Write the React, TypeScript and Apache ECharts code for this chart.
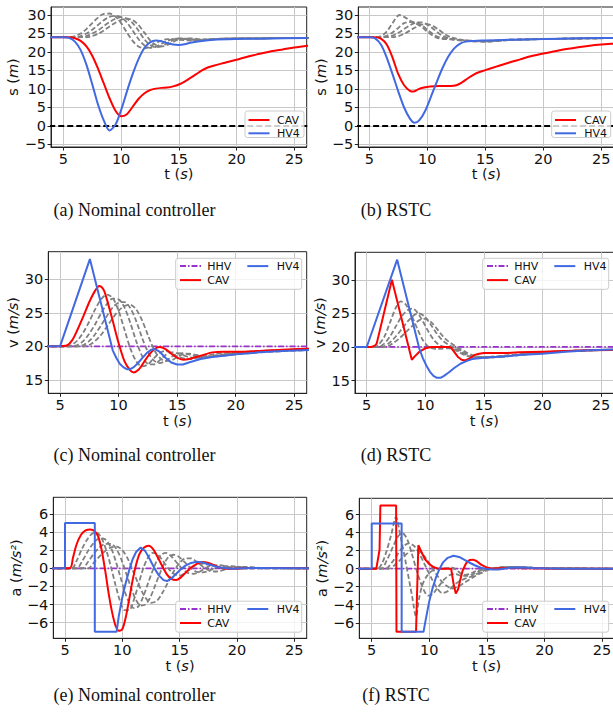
import React, { useEffect, useRef } from "react";
import * as echarts from "echarts";

type P = [number, number][];

// ---------- tick values ----------
const xTicks = [5, 10, 15, 20, 25];
const sTicks = [-5, 0, 5, 10, 15, 20, 25, 30];
const vTicks = [15, 20, 25, 30];
const aTicks = [-6, -4, -2, 0, 2, 4, 6];

// ---------- reference lines ----------
const safeGap: P = [[3, 0], [27, 0]];
const hhvV: P = [[3, 20], [27, 20]];
const hhvA: P = [[3, 0], [27, 0]];

// ---------- (a) spacing, nominal ----------
const sNomCAV: P = [[3, 24], [5.5, 24], [6, 23.7], [6.5, 23], [7, 21.5], [7.5, 19], [8, 15.5], [8.5, 11.5], [9, 7.5], [9.5, 4.2], [10, 2.6], [10.5, 3.2], [11, 5.2], [11.5, 7.3], [12, 8.8], [12.5, 9.7], [13, 10.1], [13.5, 10.3], [14, 10.4], [14.5, 10.7], [15, 11.2], [15.5, 12], [16, 13], [16.5, 14], [17, 15], [17.5, 15.8], [18, 16.3], [19, 17.1], [20, 17.9], [21, 18.8], [22, 19.5], [23, 20.2], [24, 20.7], [25, 21.2], [27, 22]];
const sNomHV4: P = [[3, 24], [5, 24], [5.5, 23.8], [6, 22.8], [6.5, 20.5], [7, 16.5], [7.5, 11.3], [8, 5.8], [8.5, 1.5], [9, -1.2], [9.5, 0.3], [10, 4.3], [10.5, 9.3], [11, 14], [11.5, 18], [12, 21], [12.5, 22.6], [13, 23.1], [13.5, 22.9], [14, 22.4], [14.5, 22], [15, 21.9], [15.5, 22.1], [16, 22.5], [17, 23], [18, 23.3], [20, 23.5], [22, 23.6], [27, 23.8]];
const sNomG1: P = [[3, 24], [5.5, 24], [6, 24.3], [6.5, 25], [7, 26.2], [7.5, 27.8], [8, 29.3], [8.5, 30.3], [9, 30.4], [9.5, 29.6], [10, 27.8], [10.5, 25.3], [11, 23], [11.5, 21.5], [12, 21], [12.5, 21.5], [13, 22.4], [13.5, 23.1], [14, 23.5], [14.5, 23.5], [15, 23.3], [16, 23.1], [17, 23.3], [19, 23.6], [22, 23.7], [27, 23.8]];
const sNomG2: P = [[3, 24], [6, 24], [6.5, 24.3], [7, 25], [7.5, 26], [8, 27.3], [8.5, 28.6], [9, 29.5], [9.5, 29.8], [10, 29.4], [10.5, 28], [11, 25.8], [11.5, 23.5], [12, 21.8], [12.5, 21.1], [13, 21.4], [13.5, 22.2], [14, 23], [14.5, 23.5], [15, 23.6], [16, 23.3], [17, 23.3], [19, 23.6], [22, 23.7], [27, 23.8]];
const sNomG3: P = [[3, 24], [6.5, 24], [7, 24.3], [7.5, 25], [8, 25.8], [8.5, 27], [9, 28.1], [9.5, 29], [10, 29.4], [10.5, 29], [11, 27.8], [11.5, 25.8], [12, 23.5], [12.5, 21.9], [13, 21.3], [13.5, 21.6], [14, 22.4], [14.5, 23.2], [15, 23.7], [16, 23.5], [17, 23.3], [19, 23.6], [22, 23.7], [27, 23.8]];
const sNomG4: P = [[3, 24], [7, 24], [7.5, 24.3], [8, 24.9], [8.5, 25.8], [9, 26.9], [9.5, 27.9], [10, 28.7], [10.5, 29], [11, 28.6], [11.5, 27.3], [12, 25.3], [12.5, 23.2], [13, 21.9], [13.5, 21.5], [14, 21.9], [14.5, 22.7], [15, 23.4], [16, 23.7], [17, 23.4], [19, 23.6], [22, 23.7], [27, 23.8]];

// ---------- (b) spacing, RSTC ----------
const sRstcCAV: P = [[3, 24], [5.5, 24], [6, 23.6], [6.5, 22], [7, 18.5], [7.5, 14], [8, 11], [8.5, 9.5], [8.8, 9.3], [9.2, 9.9], [9.7, 10.4], [10.2, 10.7], [11, 10.8], [12, 10.8], [12.5, 11], [13, 11.8], [13.5, 12.9], [14, 13.9], [14.5, 14.6], [15, 15.1], [16, 16.1], [17, 17.1], [18, 18], [19, 18.9], [20, 19.6], [21, 20.2], [22, 20.8], [23, 21.3], [24, 21.7], [25, 22], [27, 22.5]];
const sRstcHV4: P = [[3, 24], [5, 24], [5.5, 23.7], [6, 22], [6.5, 18.5], [7, 14], [7.5, 9.3], [8, 5], [8.5, 2], [8.9, 0.9], [9.3, 1.5], [9.8, 4], [10.3, 7.8], [10.8, 11.8], [11.3, 15.6], [11.8, 18.7], [12.3, 20.9], [12.8, 22.2], [13.3, 22.8], [14, 23], [15, 23.1], [17, 23.3], [20, 23.5], [23, 23.7], [27, 23.8]];
const sRstcG1: P = [[3, 24], [5.5, 24], [6, 24.3], [6.5, 25.5], [7, 27.8], [7.6, 30], [8, 29.5], [8.5, 28.5], [9, 27.7], [9.5, 26.8], [10, 25.5], [10.5, 24.4], [11, 23.7], [12, 23.4], [13, 23.1], [14, 23], [15, 23], [17, 23.3], [20, 23.5], [27, 23.8]];
const sRstcG2: P = [[3, 24], [6, 24], [6.5, 24.4], [7, 25.3], [7.5, 26.5], [8, 27.8], [8.5, 28.1], [9, 28], [9.5, 27.3], [10, 26], [10.5, 24.8], [11, 24], [12, 23.5], [13, 23.1], [14, 22.9], [15, 22.9], [17, 23.3], [20, 23.5], [27, 23.8]];
const sRstcG3: P = [[3, 24], [6.5, 24], [7, 24.4], [7.5, 25.2], [8, 26.2], [8.5, 27.2], [9, 27.9], [9.5, 28], [10, 27.4], [10.5, 26.3], [11, 25], [11.5, 24.1], [12, 23.6], [13, 23.2], [14, 22.9], [15, 22.8], [17, 23.2], [20, 23.5], [27, 23.8]];
const sRstcG4: P = [[3, 24], [7, 24], [7.5, 24.3], [8, 24.9], [8.5, 25.8], [9, 26.7], [9.5, 27.4], [10, 27.5], [10.5, 27], [11, 26], [11.5, 24.8], [12, 24], [13, 23.3], [14, 23], [15, 22.8], [17, 23.2], [20, 23.5], [27, 23.8]];

// ---------- (c) speed, nominal ----------
const vNomCAV: P = [[3, 20], [5.5, 20.1], [6, 20.8], [6.5, 22.5], [7, 24.5], [7.5, 26.6], [8, 28.3], [8.35, 29], [8.7, 28.5], [9, 27], [9.5, 23.8], [10, 20.5], [10.5, 17.8], [11, 16.4], [11.3, 16.1], [11.7, 16.5], [12, 17.2], [12.5, 18.5], [13, 19.5], [13.5, 19.9], [14, 19.6], [14.5, 18.9], [15, 18.3], [15.5, 18], [16, 18.1], [17, 18.6], [18, 19.1], [19, 19.2], [20, 19.2], [22, 19.3], [24, 19.5], [27, 19.7]];
const vNomHV4: P = [[3, 20], [5, 20], [7.55, 33], [9.5, 19.4], [9.8, 18.3], [10.1, 17.4], [10.4, 16.9], [10.7, 16.6], [11, 16.6], [11.3, 16.9], [11.6, 17.4], [12, 18.2], [12.4, 19], [12.8, 19.5], [13.1, 19.6], [13.5, 19.2], [14, 18.3], [14.5, 17.6], [15, 17.3], [15.5, 17.3], [16, 17.6], [17, 18.1], [18, 18.4], [19, 18.6], [20, 18.8], [22, 19.1], [24, 19.3], [27, 19.5]];
const vNomG1: P = [[3, 20], [5.5, 20], [6, 20.2], [6.5, 20.9], [7, 22.1], [7.5, 23.7], [8, 25.5], [8.5, 27], [9, 27.7], [9.5, 27.2], [10, 25.3], [10.5, 22.5], [11, 19.7], [11.5, 17.8], [12, 17], [12.5, 17.3], [13, 18.2], [13.5, 19], [14, 19.3], [14.5, 19], [15, 18.5], [16, 18.1], [17, 18.4], [18, 18.8], [20, 19.1], [22, 19.3], [27, 19.6]];
const vNomG2: P = [[3, 20], [6, 20], [6.5, 20.2], [7, 20.8], [7.5, 21.9], [8, 23.3], [8.5, 24.9], [9, 26.3], [9.5, 27.1], [10, 27], [10.5, 25.8], [11, 23.5], [11.5, 20.8], [12, 18.6], [12.5, 17.4], [13, 17.3], [13.5, 17.9], [14, 18.7], [14.5, 19.1], [15, 19], [16, 18.4], [17, 18.3], [18, 18.6], [20, 19], [22, 19.3], [27, 19.6]];
const vNomG3: P = [[3, 20], [6.5, 20], [7, 20.2], [7.5, 20.8], [8, 21.8], [8.5, 23.1], [9, 24.5], [9.5, 25.8], [10, 26.5], [10.5, 26.6], [11, 25.7], [11.5, 23.8], [12, 21.3], [12.5, 19.2], [13, 17.9], [13.5, 17.5], [14, 17.8], [14.5, 18.4], [15, 18.9], [15.5, 19], [16, 18.8], [17, 18.4], [18, 18.5], [20, 18.9], [22, 19.2], [27, 19.6]];
const vNomG4: P = [[3, 20], [7, 20], [7.5, 20.2], [8, 20.8], [8.5, 21.7], [9, 22.9], [9.5, 24.2], [10, 25.3], [10.5, 26], [11, 26.2], [11.5, 25.5], [12, 23.9], [12.5, 21.7], [13, 19.6], [13.5, 18.3], [14, 17.8], [14.5, 17.9], [15, 18.4], [15.5, 18.8], [16, 18.9], [17, 18.6], [18, 18.5], [20, 18.8], [22, 19.1], [27, 19.5]];

// ---------- (d) speed, RSTC ----------
const vRstcCAV: P = [[3, 20], [5.4, 20], [5.7, 20.2], [5.85, 20.5], [7.15, 30], [8.85, 18.1], [9.1, 18.6], [9.5, 19.3], [10, 19.8], [10.5, 20], [12, 20], [12.2, 19.9], [12.5, 19.2], [12.8, 18.5], [13.1, 18.1], [13.4, 18], [13.8, 18.3], [14.2, 18.8], [14.6, 19], [15, 19.1], [16, 19.1], [17, 19.1], [18, 19.2], [20, 19.3], [22, 19.4], [24, 19.5], [27, 19.6]];
const vRstcHV4: P = [[3, 20], [5, 20], [7.6, 33], [9.5, 19.7], [9.8, 18.3], [10.1, 17.2], [10.4, 16.3], [10.7, 15.7], [11, 15.4], [11.3, 15.4], [11.6, 15.7], [12, 16.2], [12.5, 16.9], [13, 17.5], [13.5, 17.9], [14, 18.2], [15, 18.4], [16, 18.5], [17, 18.6], [18, 18.8], [20, 19], [22, 19.3], [24, 19.5], [27, 19.7]];
const vRstcG1: P = [[3, 20], [5.7, 20], [6, 20.3], [6.5, 21.5], [7, 23.7], [7.5, 25.9], [7.9, 26.8], [8.3, 26.4], [8.8, 24.8], [9.3, 22.8], [9.8, 21], [10.3, 20], [11, 19.7], [12, 19.8], [12.5, 19.6], [13, 19.1], [13.5, 18.7], [14, 18.5], [15, 18.5], [16, 18.6], [18, 18.9], [20, 19.2], [22, 19.4], [27, 19.6]];
const vRstcG2: P = [[3, 20], [6, 20], [6.5, 20.5], [7, 21.6], [7.5, 23.1], [8, 24.6], [8.5, 25.5], [8.9, 25.7], [9.3, 25.2], [9.8, 23.8], [10.3, 22.2], [10.8, 20.9], [11.3, 20.2], [12, 19.9], [12.5, 19.7], [13, 19.3], [13.5, 18.8], [14, 18.5], [15, 18.4], [16, 18.5], [18, 18.9], [20, 19.2], [22, 19.4], [27, 19.6]];
const vRstcG3: P = [[3, 20], [6.3, 20], [7, 20.7], [7.5, 21.6], [8, 22.7], [8.5, 23.8], [9, 24.7], [9.4, 25], [9.9, 24.6], [10.4, 23.5], [10.9, 22.2], [11.4, 21.1], [12, 20.3], [12.5, 19.9], [13, 19.5], [13.5, 19], [14, 18.6], [15, 18.4], [16, 18.5], [18, 18.8], [20, 19.2], [22, 19.4], [27, 19.6]];
const vRstcG4: P = [[3, 20], [6.6, 20], [7.2, 20.5], [7.8, 21.3], [8.4, 22.3], [9, 23.3], [9.5, 24], [10, 24.2], [10.5, 23.7], [11, 22.7], [11.5, 21.6], [12, 20.8], [12.5, 20.2], [13, 19.7], [13.5, 19.2], [14, 18.8], [15, 18.5], [16, 18.5], [18, 18.8], [20, 19.1], [22, 19.4], [27, 19.6]];

// ---------- (e) acceleration, nominal ----------
const aNomCAV: P = [[3, 0], [5.4, 0], [5.7, 1.2], [6, 2.6], [6.4, 3.7], [6.8, 4.2], [7.2, 4.3], [7.6, 4.1], [7.9, 3.5], [8.2, 2], [8.5, -0.2], [8.8, -2.7], [9.1, -4.8], [9.4, -6.3], [9.7, -6.9], [10, -6.7], [10.3, -5.4], [10.6, -3.4], [10.9, -1.3], [11.2, 0.4], [11.5, 1.6], [11.9, 2.3], [12.3, 2.5], [12.7, 2.1], [13.1, 1.2], [13.5, 0.2], [13.9, -0.7], [14.3, -1.2], [14.7, -1.3], [15.1, -1], [15.5, -0.5], [16, 0.1], [16.5, 0.5], [17, 0.7], [17.5, 0.6], [18, 0.35], [18.5, 0.1], [19, -0.05], [20, -0.05], [21, 0.05], [22, 0.05], [27, 0]];
const aNomHV4: P = [[3, 0], [5, 0], [5, 5], [7.6, 5], [7.6, -7], [9.5, -7], [9.7, -5.2], [10, -3.2], [10.3, -1.6], [10.6, -0.2], [10.9, 1], [11.2, 1.8], [11.6, 2.3], [12, 1.9], [12.4, 1], [12.8, 0], [13.2, -0.8], [13.6, -1.3], [13.9, -1.4], [14.3, -1.1], [14.7, -0.6], [15.1, -0.1], [15.5, 0.3], [16, 0.6], [16.5, 0.72], [17, 0.65], [17.5, 0.45], [18, 0.25], [18.5, 0.1], [19.5, -0.05], [20.5, 0], [21.5, 0.05], [27, 0]];
const aNomG1: P = [[3, 0], [5.6, 0], [6, 0.8], [6.5, 2.2], [7, 3.3], [7.5, 3.9], [7.8, 3.9], [8.2, 3.3], [8.6, 2], [9, 0.2], [9.4, -1.8], [9.8, -3.6], [10.2, -4.6], [10.6, -4.6], [11, -3.5], [11.4, -1.8], [11.8, -0.1], [12.2, 1.1], [12.6, 1.7], [13, 1.6], [13.5, 0.9], [14, 0], [14.5, -0.6], [15, -0.8], [15.5, -0.5], [16, 0], [16.5, 0.4], [17, 0.5], [17.5, 0.4], [18.5, 0.1], [20, 0], [27, 0]];
const aNomG2: P = [[3, 0], [6, 0], [6.5, 0.8], [7, 1.9], [7.5, 2.8], [8, 3.3], [8.5, 3.2], [9, 2.3], [9.4, 0.9], [9.8, -0.8], [10.2, -2.5], [10.6, -3.8], [11, -4.4], [11.4, -4.2], [11.8, -3.2], [12.2, -1.8], [12.6, -0.4], [13, 0.8], [13.4, 1.5], [13.8, 1.7], [14.2, 1.4], [14.7, 0.7], [15.2, 0], [15.7, -0.5], [16.2, -0.6], [16.7, -0.4], [17.2, 0], [17.7, 0.3], [18.5, 0.35], [19.5, 0.1], [21, 0], [27, 0]];
const aNomG3: P = [[3, 0], [6.5, 0], [7, 0.7], [7.5, 1.6], [8, 2.3], [8.5, 2.7], [9, 2.7], [9.5, 2.1], [10, 0.7], [10.4, -0.8], [10.8, -2.3], [11.2, -3.5], [11.6, -4.1], [12, -4], [12.4, -3.3], [12.8, -2.1], [13.2, -0.8], [13.6, 0.4], [14, 1.2], [14.5, 1.5], [15, 1.2], [15.5, 0.6], [16, 0], [16.5, -0.4], [17, -0.45], [17.5, -0.3], [18, 0], [18.5, 0.2], [19.5, 0.25], [21, 0.05], [27, 0]];
const aNomG4: P = [[3, 0], [7, 0], [7.5, 0.6], [8, 1.3], [8.5, 1.9], [9, 2.3], [9.5, 2.4], [10, 2], [10.5, 1], [11, -0.5], [11.5, -2], [12, -3.2], [12.5, -3.8], [13, -3.6], [13.5, -2.7], [14, -1.5], [14.5, -0.3], [15, 0.6], [15.5, 1.1], [16, 1.1], [16.5, 0.7], [17, 0.2], [17.5, -0.2], [18, -0.35], [18.5, -0.3], [19, -0.1], [20, 0.15], [21, 0.15], [22, 0.05], [27, 0]];

// ---------- (f) acceleration, RSTC ----------
const aRstcCAV: P = [[3, 0], [5.4, 0], [5.6, 1.5], [5.68, 2.1], [5.75, 7], [7.12, 7], [7.15, -7], [8.85, -7], [9.05, 2.6], [9.3, 1.9], [9.6, 1.1], [10, 0.5], [10.4, 0.15], [10.8, 0], [11.9, 0], [11.95, -0.4], [12.1, -1.6], [12.3, -2.75], [12.5, -2.3], [12.7, -1.2], [12.9, -0.2], [13.2, 0.6], [13.5, 0.95], [13.8, 1], [14.1, 0.85], [14.5, 0.45], [15, 0.12], [15.5, 0], [16, 0.05], [17, 0.08], [20, 0.02], [27, 0]];
const aRstcHV4: P = [[3, 0], [5, 0], [5, 5], [7.6, 5], [7.6, -7], [9.5, -7], [9.7, -5.6], [10, -3.6], [10.3, -2.1], [10.6, -0.9], [10.9, 0], [11.2, 0.7], [11.6, 1.2], [12.1, 1.43], [12.6, 1.3], [13.1, 0.95], [13.6, 0.6], [14, 0.35], [14.5, 0.1], [15, -0.05], [15.5, -0.1], [16, -0.1], [16.5, 0], [17, 0.1], [18, 0.12], [19, 0.08], [20, 0.05], [22, 0], [27, 0]];
const aRstcG1: P = [[3, 0], [5.5, 0], [5.9, 0.6], [6.3, 2], [6.7, 3.8], [7.1, 5.7], [7.5, 3.6], [8, 0.4], [8.5, -3], [8.85, -5.3], [9.1, -3.4], [9.4, -1.8], [9.8, -0.8], [10.3, -0.2], [11, 0], [12, 0.1], [12.5, -0.3], [13, -0.7], [13.5, -0.6], [14, -0.3], [15, 0], [16, 0.1], [17, 0.2], [18, 0.15], [20, 0.05], [27, 0]];
const aRstcG2: P = [[3, 0], [5.8, 0], [6.3, 0.9], [6.8, 2.3], [7.3, 3.6], [7.7, 3.9], [8.1, 3.2], [8.5, 1.6], [9, -0.6], [9.5, -2.3], [9.9, -3], [10.3, -2.8], [10.8, -2], [11.3, -1.2], [11.8, -0.7], [12.3, -0.6], [12.8, -0.8], [13.3, -0.8], [13.8, -0.6], [14.5, -0.2], [15.5, 0.05], [17, 0.2], [18, 0.15], [20, 0.05], [27, 0]];
const aRstcG3: P = [[3, 0], [6.2, 0], [6.7, 0.6], [7.2, 1.5], [7.7, 2.4], [8.2, 2.8], [8.7, 2.5], [9.2, 1.5], [9.7, 0.2], [10.2, -1.1], [10.7, -2.2], [11.1, -2.7], [11.6, -2.5], [12.1, -1.9], [12.6, -1.4], [13.1, -1.1], [13.6, -0.9], [14.1, -0.6], [14.8, -0.2], [15.5, 0], [17, 0.2], [18, 0.18], [20, 0.05], [27, 0]];
const aRstcG4: P = [[3, 0], [6.5, 0], [7, 0.4], [7.5, 1], [8, 1.6], [8.5, 2], [9, 2], [9.5, 1.5], [10, 0.6], [10.5, -0.4], [11, -1.3], [11.5, -1.9], [12, -2.2], [12.5, -2], [13, -1.6], [13.5, -1.2], [14, -0.8], [14.5, -0.5], [15, -0.2], [15.5, 0], [16.5, 0.15], [17.5, 0.2], [19, 0.1], [20, 0.05], [27, 0]];

// ---------- captions ----------
const captions = ["(a) Nominal controller", "(b) RSTC", "(c) Nominal controller", "(d) RSTC", "(e) Nominal controller", "(f) RSTC"];

const RED = "#ff0000";
const BLUE = "#4169e1";
const GRAY = "#808080";
const PURPLE = "#9932cc";
const TXT = "#111111";
const FONT = "DejaVu Sans";

const panels = [
  { left: 51, top: 7, width: 255.7, height: 140, xmin: 3.93, xmax: 26.07, ymin: -5.68, ymax: 32.16, yt: sTicks, name: "s ({i|m})", gap: 28 },
  { left: 358.3, top: 7, width: 256, height: 140, xmin: 4.05, xmax: 26.12, ymin: -5.68, ymax: 32.16, yt: sTicks, name: "s ({i|m})", gap: 27 },
  { left: 48.3, top: 251.7, width: 258.4, height: 141.6, xmin: 4.0, xmax: 26.06, ymin: 13.0, ymax: 34.1, yt: vTicks, name: "v ({i|m/s})", gap: 23.5 },
  { left: 355, top: 252.3, width: 258.5, height: 141, xmin: 4.0, xmax: 26.07, ymin: 13.1, ymax: 34.1, yt: vTicks, name: "v ({i|m/s})", gap: 23.5 },
  { left: 53.3, top: 497.3, width: 253.4, height: 141, xmin: 3.98, xmax: 26.08, ymin: -7.72, ymax: 7.84, yt: aTicks, name: "a ({i|m/s²})", gap: 28 },
  { left: 359.3, top: 498.3, width: 254.7, height: 140, xmin: 3.92, xmax: 26.05, ymin: -7.72, ymax: 7.8, yt: aTicks, name: "a ({i|m/s²})", gap: 28 },
];

const fmt = (v: number) => (v < 0 ? "\u2212" + String(-v) : String(v));

function line(data: P, i: number, color: string, width: number, dash: any, smooth: number | boolean, z: number) {
  return {
    type: "line",
    data,
    xAxisIndex: i,
    yAxisIndex: i,
    symbol: "none",
    showSymbol: false,
    smooth,
    clip: true,
    silent: true,
    z,
    lineStyle: { color, width, type: dash },
  };
}

const GD: number[] = [5, 2.5];
const DD: number[] = [6, 2, 1.5, 2];

function legendBox(x: number, y: number, w: number, h: number, items: { t: string; c: string; d: any; x1: number; y: number; tx: number }[]) {
  const els: any[] = [
    { type: "rect", shape: { x, y, width: w, height: h, r: 2.5 }, style: { fill: "rgba(255,255,255,0.8)", stroke: "#cccccc", lineWidth: 1 }, z: 100 },
  ];
  items.forEach((it) => {
    els.push({ type: "line", shape: { x1: it.x1, y1: it.y, x2: it.x1 + 21, y2: it.y }, style: { stroke: it.c, lineWidth: 2, lineDash: it.d }, z: 101 });
    els.push({ type: "text", x: it.tx, y: it.y, style: { text: it.t, fontSize: 11, fontFamily: FONT, fill: TXT, align: "left", verticalAlign: "middle" }, z: 101 });
  });
  return els;
}

export default function App() {
  const ref = useRef<HTMLDivElement>(null);
  useEffect(() => {
    if (!ref.current) return;
    const chart = echarts.init(ref.current, undefined, { renderer: "svg" });
    const nameStyle = {
      fontSize: 14.5,
      fontFamily: FONT,
      color: TXT,
      rich: { i: { fontSize: 14.5, fontFamily: FONT, color: TXT, fontStyle: "italic" } },
    };
    const grid = panels.map((p) => ({
      left: p.left,
      top: p.top,
      width: p.width,
      height: p.height,
      show: true,
      borderColor: "#222222",
      borderWidth: 1,
      backgroundColor: "rgba(0,0,0,0)",
      containLabel: false,
      outerBoundsMode: "none",
    }));
    const xAxis = panels.map((p, i) => ({
      type: "value",
      gridIndex: i,
      min: p.xmin,
      max: p.xmax,
      axisLine: { show: true, onZero: false, lineStyle: { color: "#222222", width: 1 } },
      axisTick: { show: true, length: 3.5, customValues: xTicks, lineStyle: { color: "#222222", width: 1 } },
      axisLabel: { customValues: xTicks, fontSize: 14.5, fontFamily: FONT, color: TXT, margin: 4, formatter: fmt },
      splitLine: { show: true, lineStyle: { color: "#c8c8c8", width: 1 } },
      name: "t ({i|s})",
      nameLocation: "middle",
      nameGap: 18,
      nameTextStyle: nameStyle,
    }));
    const yAxis = panels.map((p, i) => ({
      type: "value",
      gridIndex: i,
      min: p.ymin,
      max: p.ymax,
      axisLine: { show: true, onZero: false, lineStyle: { color: "#222222", width: 1 } },
      axisTick: { show: true, length: 3.5, customValues: p.yt, lineStyle: { color: "#222222", width: 1 } },
      axisLabel: { customValues: p.yt, fontSize: 14.5, fontFamily: FONT, color: TXT, margin: 5, formatter: fmt },
      splitLine: { show: true, lineStyle: { color: "#c8c8c8", width: 1 } },
      name: p.name,
      nameLocation: "middle",
      nameGap: p.gap,
      nameTextStyle: nameStyle,
    }));

    const series: any[] = [];
    const addS = (i: number, g: P[], cav: P, hv4: P, sc: boolean, sh: boolean) => {
      g.forEach((d) => series.push(line(d, i, GRAY, 1.8, GD, 0.3, 3)));
      series.push(line(safeGap, i, "#000000", 2, [6, 3], false, 4));
      series.push(line(cav, i, RED, 2, "solid", sc ? 0.3 : false, 5));
      series.push(line(hv4, i, BLUE, 2, "solid", sh ? 0.3 : false, 6));
    };
    const addVA = (i: number, hhv: P, g: P[], cav: P, hv4: P, sc: boolean, sh: boolean) => {
      series.push(line(hhv, i, PURPLE, 1.8, DD, false, 2));
      g.forEach((d) => series.push(line(d, i, GRAY, 1.8, GD, 0.3, 3)));
      series.push(line(cav, i, RED, 2, "solid", sc ? 0.3 : false, 5));
      series.push(line(hv4, i, BLUE, 2, "solid", sh ? 0.3 : false, 6));
    };
    addS(0, [sNomG1, sNomG2, sNomG3, sNomG4], sNomCAV, sNomHV4, true, true);
    addS(1, [sRstcG1, sRstcG2, sRstcG3, sRstcG4], sRstcCAV, sRstcHV4, true, true);
    addVA(2, hhvV, [vNomG1, vNomG2, vNomG3, vNomG4], vNomCAV, vNomHV4, true, false);
    addVA(3, hhvV, [vRstcG1, vRstcG2, vRstcG3, vRstcG4], vRstcCAV, vRstcHV4, false, false);
    addVA(4, hhvA, [aNomG1, aNomG2, aNomG3, aNomG4], aNomCAV, aNomHV4, true, false);
    addVA(5, hhvA, [aRstcG1, aRstcG2, aRstcG3, aRstcG4], aRstcCAV, aRstcHV4, false, false);

    const graphic: any[] = [];
    // legends for spacing panels
    graphic.push(...legendBox(245, 111, 59, 26.5, [
      { t: "CAV", c: RED, d: null, x1: 248.5, y: 120, tx: 277 },
      { t: "HV4", c: BLUE, d: null, x1: 248.5, y: 133.3, tx: 277 },
    ]));
    graphic.push(...legendBox(551.7, 111, 59, 26.5, [
      { t: "CAV", c: RED, d: null, x1: 555, y: 120, tx: 584.3 },
      { t: "HV4", c: BLUE, d: null, x1: 555, y: 133.3, tx: 584.3 },
    ]));
    // legends for speed / acceleration panels
    const vaLegend = (bx: number, by: number) =>
      legendBox(bx, by, 126, 31, [
        { t: "HHV", c: PURPLE, d: DD, x1: bx + 4.3, y: by + 7.8, tx: bx + 31.6 },
        { t: "HV4", c: BLUE, d: null, x1: bx + 71.6, y: by + 7.8, tx: bx + 101 },
        { t: "CAV", c: RED, d: null, x1: bx + 4.3, y: by + 21.8, tx: bx + 31.6 },
      ]);
    graphic.push(...vaLegend(175.7, 258.3));
    graphic.push(...vaLegend(482.7, 258.3));
    graphic.push(...vaLegend(175.7, 601.2));
    graphic.push(...vaLegend(482.7, 601.2));

    const capPos = [[134.5, 209.5], [396, 209.5], [134.5, 454.5], [396, 454.5], [134.5, 694.5], [396, 694.5]];
    captions.forEach((c, k) => {
      graphic.push({
        type: "text",
        x: capPos[k][0],
        y: capPos[k][1],
        style: { text: c, fontSize: 18, fontFamily: "Liberation Serif", fill: "#111111", align: "center", verticalAlign: "middle" },
        z: 100,
      });
    });

    chart.setOption({
      animation: false,
      backgroundColor: "#ffffff",
      grid,
      xAxis,
      yAxis,
      series,
      graphic,
    });
    return () => chart.dispose();
  }, []);
  return (
    <div style={{ position: "fixed", left: 0, top: 0, width: 613, height: 713, overflow: "hidden", background: "#fff" }}>
      <div ref={ref} style={{ width: 613, height: 713 }} />
    </div>
  );
}
